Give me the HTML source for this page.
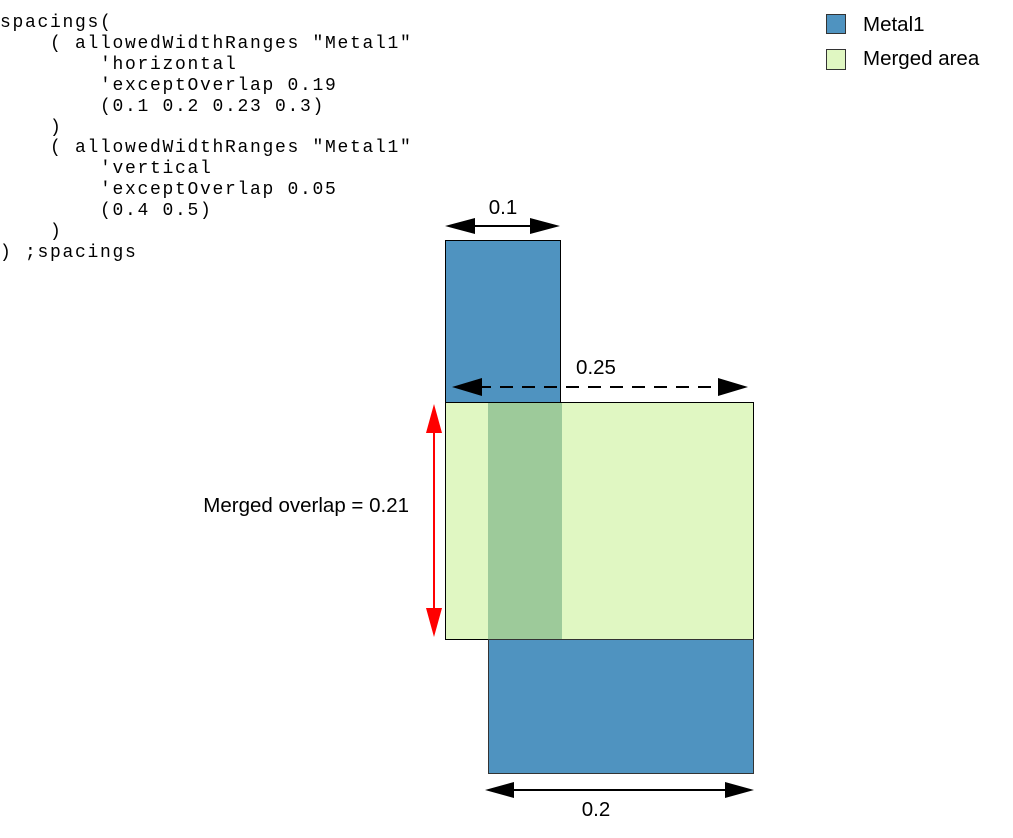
<!DOCTYPE html>
<html><head><meta charset="utf-8"><style>
html,body{margin:0;padding:0;background:#fff;width:1013px;height:838px;overflow:hidden}
pre{position:absolute;left:0;top:13px;margin:0;font-family:"Liberation Mono",monospace;font-size:18px;line-height:20.9px;letter-spacing:1.7px;color:#000}
svg{position:absolute;left:0;top:0}
</style></head><body>
<pre>spacings(
    ( allowedWidthRanges "Metal1"
        'horizontal
        'exceptOverlap 0.19
        (0.1 0.2 0.23 0.3)
    )
    ( allowedWidthRanges "Metal1"
        'vertical
        'exceptOverlap 0.05
        (0.4 0.5)
    )
) ;spacings</pre>
<svg width="1013" height="838" font-family="Liberation Sans, sans-serif" font-size="20.5">
<rect x="826.5" y="14.5" width="19" height="19" fill="#4f93c0" stroke="#333"/>
<rect x="826.5" y="49.5" width="19" height="20" fill="#e0f7c2" stroke="#333"/>
<text x="863" y="31">Metal1</text>
<text x="863" y="65">Merged area</text>
<rect x="445.5" y="240.5" width="115" height="162" fill="#4f93c0" stroke="#000"/>
<rect x="445.5" y="402.5" width="308" height="237" fill="#e0f7c2" stroke="#000"/>
<rect x="488" y="403" width="74" height="236" fill="#9dca9a"/>
<rect x="488.5" y="639.5" width="265" height="134" fill="#4f93c0" stroke="#333"/>
<line x1="470" y1="226" x2="535" y2="226" stroke="#000" stroke-width="2"/>
<polygon points="445,226 475,218 475,234" fill="#000"/>
<polygon points="560,226 530,218 530,234" fill="#000"/>
<text x="503" y="214" text-anchor="middle">0.1</text>
<line x1="478" y1="387" x2="722" y2="387" stroke="#000" stroke-width="2" stroke-dasharray="13,9"/>
<polygon points="452,387 482,378 482,396" fill="#000"/>
<polygon points="748,387 718,378 718,396" fill="#000"/>
<text x="596" y="374" text-anchor="middle">0.25</text>
<line x1="434" y1="425" x2="434" y2="615" stroke="#f00" stroke-width="2"/>
<polygon points="434,404 426,433 442,433" fill="#f00"/>
<polygon points="434,637 426,608 442,608" fill="#f00"/>
<text x="409" y="512" text-anchor="end">Merged overlap = 0.21</text>
<line x1="510" y1="790" x2="730" y2="790" stroke="#000" stroke-width="2"/>
<polygon points="485,790 514,782 514,798" fill="#000"/>
<polygon points="754,790 725,782 725,798" fill="#000"/>
<text x="596" y="816" text-anchor="middle">0.2</text>
</svg>
</body></html>
